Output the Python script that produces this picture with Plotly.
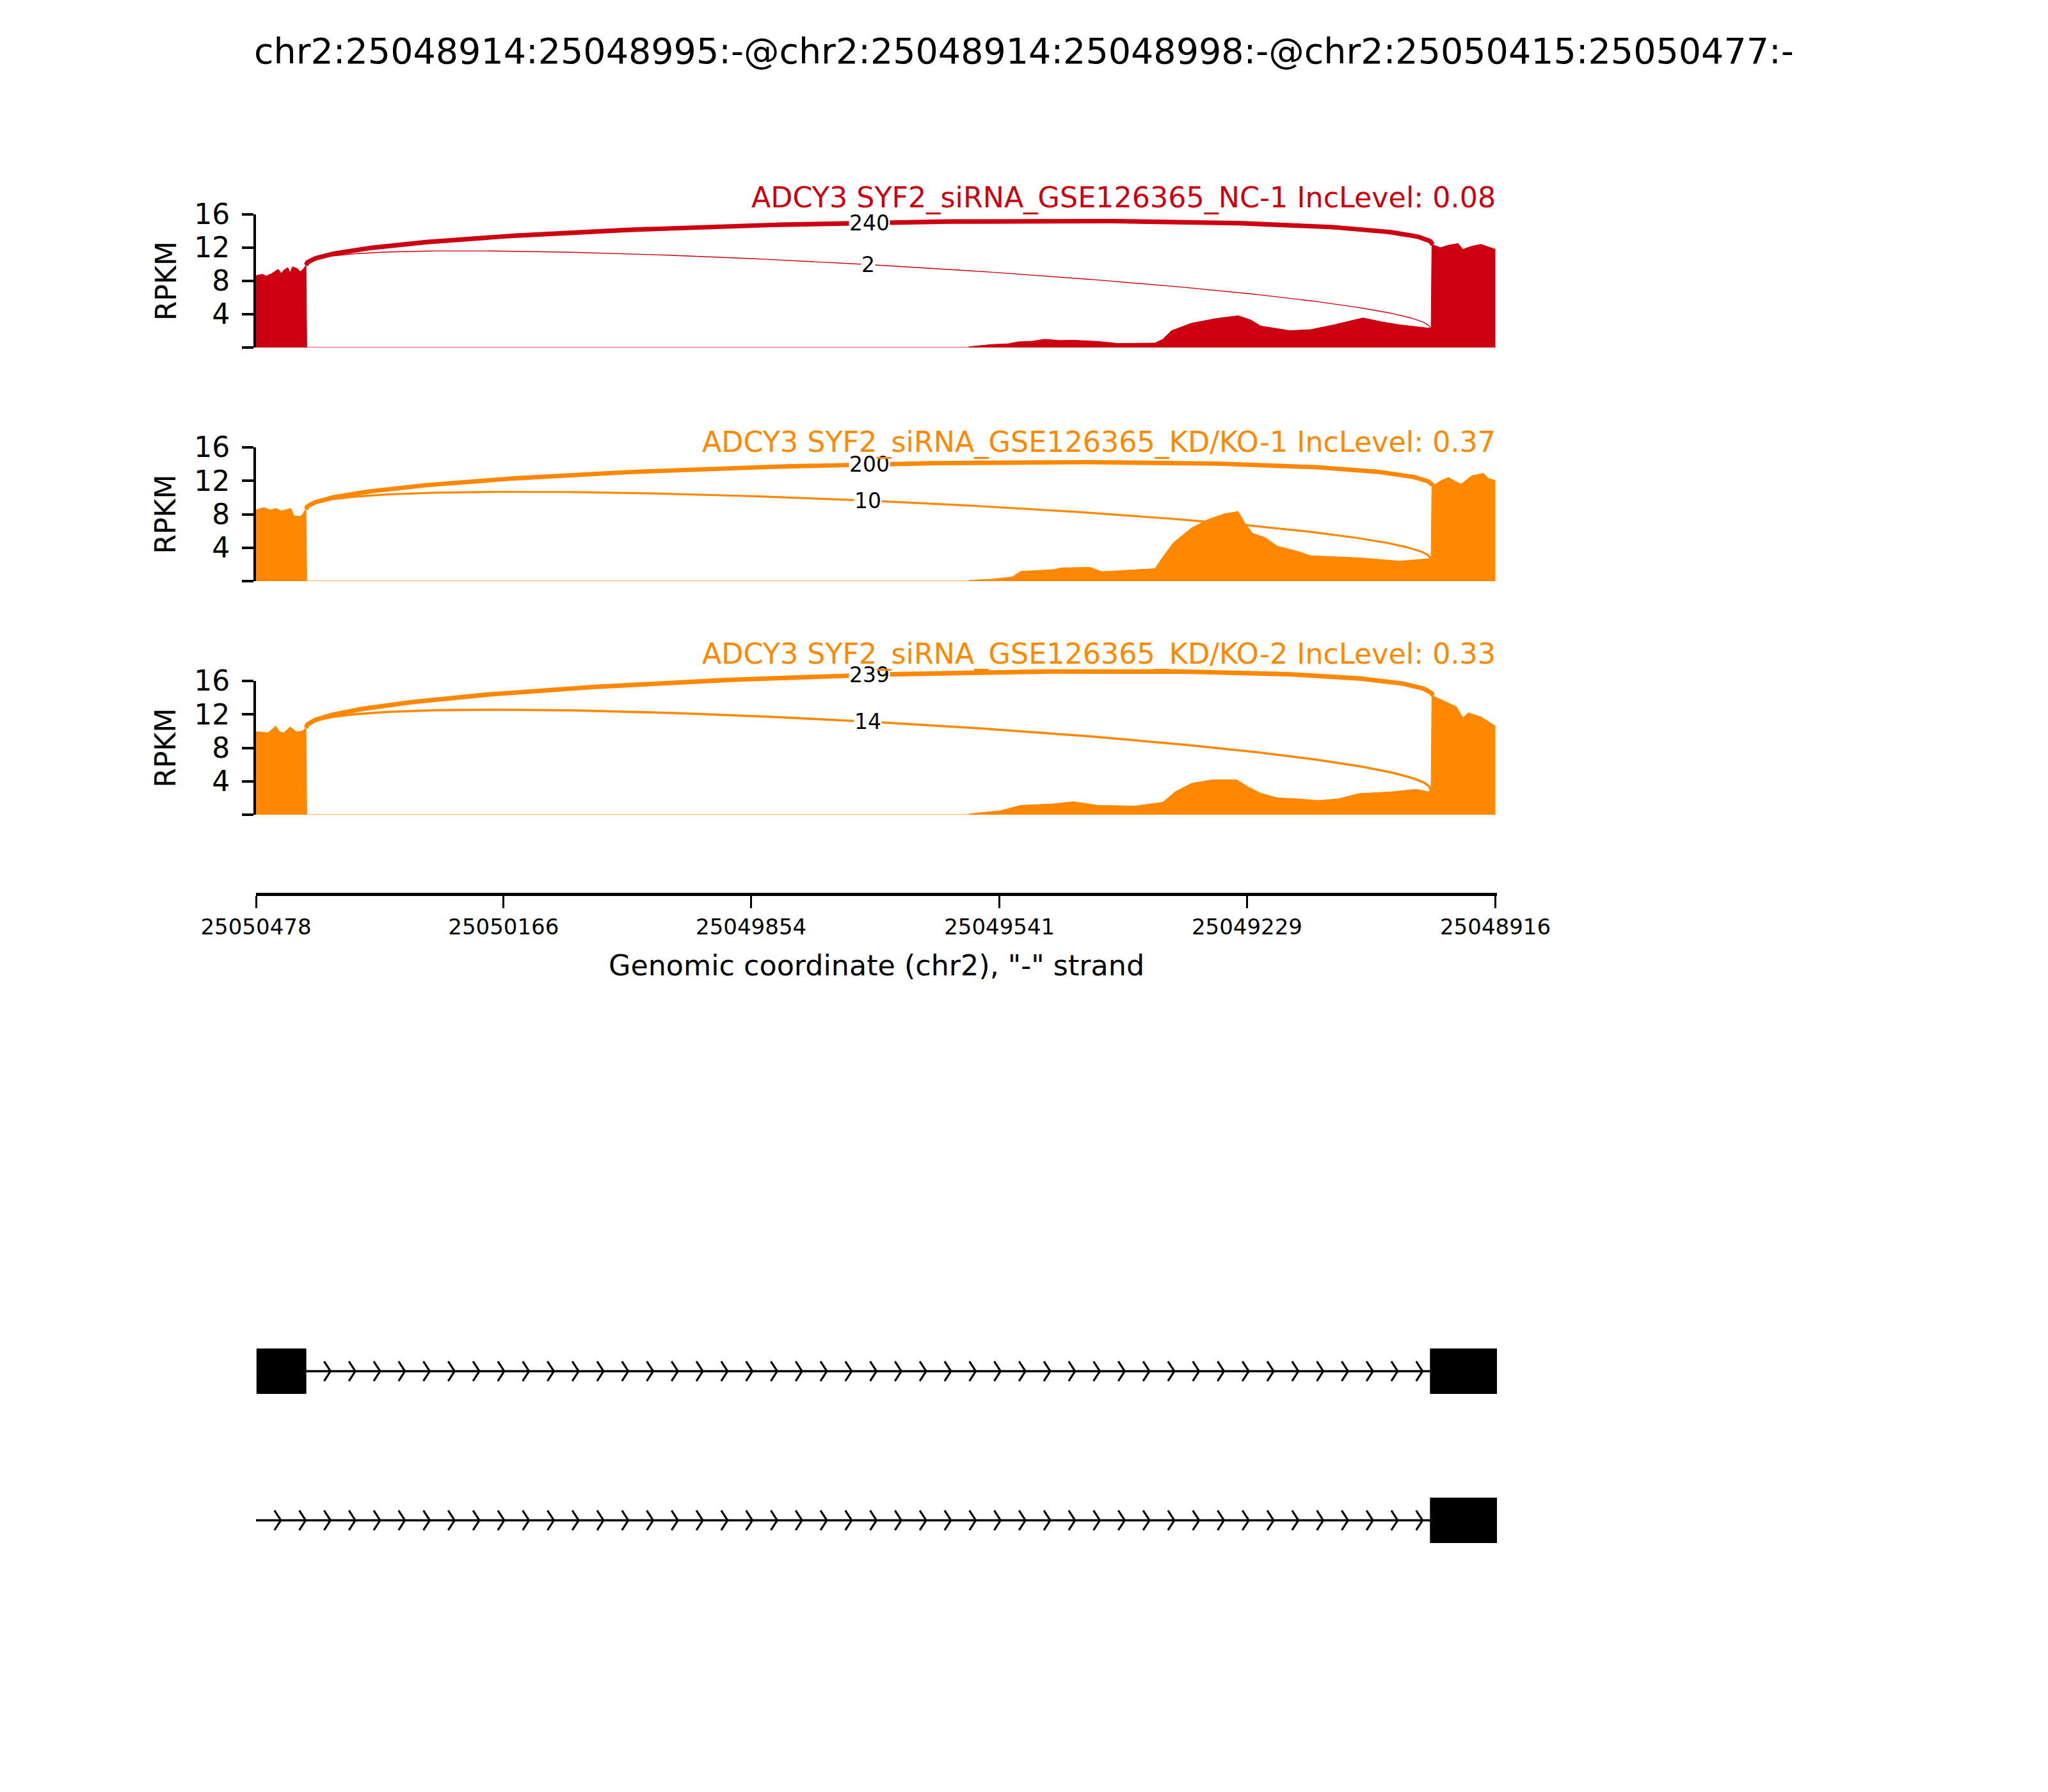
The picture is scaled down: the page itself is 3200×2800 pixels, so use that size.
import numpy as np
import plotly.graph_objects as go

# ---------------- data ----------------
TITLE = "chr2:25048914:25048995:-@chr2:25048914:25048998:-@chr2:25050415:25050477:-"
X_START = 25050478
X_END = 25048914
x_tick_vals = [25050478, 25050166, 25049854, 25049541, 25049229, 25048916]
x_tick_text = ["25050478", "25050166", "25049854", "25049541", "25049229", "25048916"]
y_tick_vals = [0, 4, 8, 12, 16]
y_tick_text = ["", "4", "8", "12", "16"]
x_title = 'Genomic coordinate (chr2), "-" strand'
y_title = "RPKM"

sample_labels = [
    "ADCY3 SYF2_siRNA_GSE126365_NC-1 IncLevel: 0.08",
    "ADCY3 SYF2_siRNA_GSE126365_KD/KO-1 IncLevel: 0.37",
    "ADCY3 SYF2_siRNA_GSE126365_KD/KO-2 IncLevel: 0.33",
]
sample_colors = ["#CC0011", "#FF8800", "#FF8800"]

cov1_pos = [25050478, 25050476, 25050470, 25050465, 25050458, 25050450, 25050446, 25050443,
            25050438, 25050435, 25050432, 25050426, 25050422, 25050417, 25050415, 25050414,
            25049580, 25049579, 25049551, 25049530, 25049517, 25049500, 25049484, 25049465,
            25049448, 25049417, 25049391, 25049345, 25049335, 25049324, 25049299, 25049268,
            25049240, 25049224, 25049212, 25049191, 25049175, 25049149, 25049119, 25049083,
            25049057, 25049037, 25049000, 25048997, 25048996, 25048985, 25048975, 25048963,
            25048957, 25048945, 25048934, 25048925, 25048918, 25048916]
cov1_val = [8.6, 8.7, 8.8, 8.6, 8.9, 9.4, 8.9, 9.3,
            9.6, 9.0, 9.7, 9.5, 9.1, 9.6, 9.9, 0,
            0, 0.1, 0.36, 0.45, 0.69, 0.75, 1.0, 0.85,
            0.88, 0.74, 0.49, 0.54, 1.0, 2.03, 2.92, 3.49,
            3.82, 3.3, 2.59, 2.28, 2.03, 2.15, 2.74, 3.56,
            3.05, 2.74, 2.33, 2.3, 12.4, 12.0, 12.3, 12.5,
            11.8, 12.2, 12.4, 12.1, 11.9, 11.8]

cov2_pos = [25050478, 25050476, 25050468, 25050460, 25050453, 25050446, 25050438, 25050434,
            25050430, 25050422, 25050419, 25050417, 25050415, 25050414,
            25049580, 25049579, 25049551, 25049525, 25049514, 25049484, 25049473, 25049463,
            25049427, 25049412, 25049370, 25049345, 25049335, 25049322, 25049299, 25049278,
            25049257, 25049240, 25049232, 25049222, 25049206, 25049191, 25049165, 25049149,
            25049114, 25049088, 25049037, 25049000, 25048997, 25048996, 25048985, 25048975,
            25048966, 25048959, 25048946, 25048931, 25048925, 25048918, 25048916]
cov2_val = [8.5, 8.6, 8.8, 8.5, 8.7, 8.4, 8.6, 8.7,
            7.8, 7.75, 8.0, 8.4, 8.6, 0,
            0, 0.1, 0.23, 0.49, 1.17, 1.3, 1.38, 1.58,
            1.65, 1.13, 1.33, 1.5, 2.9, 4.57, 6.36, 7.38,
            8.07, 8.32, 7.0, 5.72, 5.2, 4.19, 3.56, 3.04,
            2.9, 2.8, 2.4, 2.64, 2.7, 11.3, 12.0, 12.4,
            11.9, 11.6, 12.6, 12.9, 12.3, 12.1, 12.0]

cov3_pos = [25050478, 25050476, 25050463, 25050453, 25050448, 25050443, 25050435, 25050427,
            25050420, 25050417, 25050415, 25050414,
            25049580, 25049579, 25049540, 25049514, 25049473, 25049448, 25049417, 25049370,
            25049335, 25049319, 25049299, 25049273, 25049242, 25049227, 25049212, 25049191,
            25049165, 25049139, 25049114, 25049088, 25049047, 25049016, 25049000, 25048997,
            25048996, 25048985, 25048965, 25048957, 25048950, 25048934, 25048918, 25048916]
cov3_val = [9.9, 9.93, 9.8, 10.6, 9.9, 9.8, 10.5, 9.9,
            10.0, 10.2, 10.4, 0,
            0, 0.1, 0.48, 1.12, 1.3, 1.56, 1.12, 1.04,
            1.5, 2.78, 3.75, 4.18, 4.18, 3.29, 2.58, 2.02,
            1.9, 1.7, 1.9, 2.53, 2.74, 3.04, 2.74, 3.2,
            14.27, 13.8, 12.9, 11.6, 12.2, 11.7, 10.7, 10.6]

coverage_pos = [cov1_pos, cov2_pos, cov3_pos]
coverage_val = [cov1_val, cov2_val, cov3_val]

junction_coords = [(25050415, 25048995), (25050415, 25048998)]
junction_counts = [[240, 2], [200, 10], [239, 14]]

# gene model: transcript spans and exons
tx_spans = [(25050477, 25048914), (25050478, 25048914)]
tx_exons = [
    [(25050477, 25050415), (25048998, 25048914)],
    [(25048998, 25048914)],
]

# ---------------- layout helpers (pixels of the 3200x2800 page) ----------------
W, H = 3200, 2800
FONT = "DejaVu Sans"


def py(p):
    return 1 - p / H


def px(p):
    return p / W


X_LEFT_PX, X_RIGHT_PX = 400, 2339
zero_px = [543, 908, 1273]
unit_px = [13.0, 13.06, 13.06]
label_center_px = [309, 691, 1022.5]
YTOP = 19.5

fig = go.Figure()
annotations = []
layout_axes = {}

xdom = [px(X_LEFT_PX), px(X_RIGHT_PX)]
layout_axes["xaxis"] = dict(
    domain=xdom, range=[X_START, X_END], anchor="free", position=py(1397),
    showline=True, linewidth=4.5, linecolor="black", ticks="outside", ticklen=19,
    tickwidth=3, tickcolor="black", tickvals=x_tick_vals, ticktext=x_tick_text,
    tickfont=dict(family=FONT, size=34, color="black"), showgrid=False, zeroline=False,
    automargin=False,
)


def bezier(p, t):
    return ((1 - t) ** 3) * p[0] + 3 * ((1 - t) ** 2) * t * p[1] + 3 * (1 - t) * t ** 2 * p[2] + t ** 3 * p[3]


t = np.linspace(0, 1, 200)

for i in range(3):
    dn = i + 1
    sn = i + 4
    yname = "y" if dn == 1 else f"y{dn}"
    z = zero_px[i]
    u = unit_px[i]
    layout_axes["yaxis" if dn == 1 else f"yaxis{dn}"] = dict(
        domain=[py(z), py(z - YTOP * u)], range=[0, YTOP], anchor="x",
        showline=False, showticklabels=False, ticks="", showgrid=False, zeroline=False,
        automargin=False,
    )
    layout_axes[f"yaxis{sn}"] = dict(
        domain=[py(z), py(z - 16 * u)], range=[0, 16], anchor="x",
        showline=True, linewidth=4, linecolor="black", ticks="outside", ticklen=18,
        tickwidth=3.5, tickcolor="black", tickvals=y_tick_vals, ticktext=y_tick_text,
        tickfont=dict(family=FONT, size=44, color="black"), showgrid=False, zeroline=False,
        automargin=False, ticklabelstandoff=10,
    )
    # invisible trace so that the spine axis is displayed
    fig.add_trace(go.Scatter(x=[X_START], y=[0], mode="lines", line=dict(width=0),
                             showlegend=False, hoverinfo="skip", xaxis="x", yaxis=f"y{sn}"))
    color = sample_colors[i]
    pos = np.array(coverage_pos[i], dtype=float)
    val = np.array(coverage_val[i], dtype=float)

    # faint baseline
    fig.add_trace(go.Scatter(x=[X_START, X_END], y=[0, 0], mode="lines",
                             line=dict(color=color, width=2), opacity=0.3,
                             hoverinfo="skip", showlegend=False, xaxis="x", yaxis=yname))
    # coverage
    fig.add_trace(go.Scatter(x=pos, y=val, mode="lines", fill="tozeroy",
                             line=dict(color=color, width=1), fillcolor=color,
                             showlegend=False, xaxis="x", yaxis=yname))
    # junction arcs
    h = 0.4125 * val.max()
    order = np.argsort(pos)
    for (ss1, ss2), n in zip(junction_coords, junction_counts[i]):
        ld = float(np.interp(ss1, pos[order], val[order]))
        rd = float(np.interp(ss2, pos[order], val[order]))
        xs = bezier([ss1, ss1, ss2, ss2], t)
        ys = bezier([ld, ld + h, rd + h, rd], t)
        lw = np.log10(n + 1) * 200 / 72 * 1.08
        fig.add_trace(go.Scatter(x=xs, y=ys, mode="lines", line=dict(color=color, width=lw),
                                 showlegend=False, xaxis="x", yaxis=yname, hoverinfo="skip"))
        mx = bezier([ss1, ss1, ss2, ss2], 0.5)
        my = bezier([ld, ld + h, rd + h, rd], 0.5)
        annotations.append(dict(x=mx, y=my, xref="x", yref=yname, text=str(n), showarrow=False,
                                font=dict(family=FONT, size=33, color="black"),
                                bgcolor="white", borderpad=0, xanchor="center", yanchor="middle"))
    # sample label
    annotations.append(dict(x=px(X_RIGHT_PX), y=py(label_center_px[i]), xref="paper", yref="paper",
                            text=sample_labels[i], showarrow=False, xanchor="right", yanchor="middle",
                            font=dict(family=FONT, size=44.4, color=color)))
    # y title
    annotations.append(dict(x=px(259), y=py(z - 8 * u), xref="paper", yref="paper", text=y_title,
                            textangle=-90, showarrow=False, xanchor="center", yanchor="middle",
                            font=dict(family=FONT, size=44, color="black")))

# ---------------- gene model ----------------
gy_lo_px, gy_hi_px = 2492, 2026  # y=0.5 and y=2.5
layout_axes["yaxis7"] = dict(domain=[py(gy_lo_px), py(gy_hi_px)], range=[0.5, 2.5], anchor="x",
                             showline=False, showticklabels=False, ticks="", showgrid=False,
                             zeroline=False, automargin=False)
rows = [2, 1]
exon_half = 0.15
chev_half_h = 0.066
chev_dx = 8
span = X_START - X_END
tips = X_START - np.arange(50) * span / 50.0
for k, (spn, exons) in enumerate(zip(tx_spans, tx_exons)):
    yc = rows[k]
    fig.add_trace(go.Scatter(x=[spn[0], spn[1]], y=[yc, yc], mode="lines",
                             line=dict(color="black", width=3.5), showlegend=False,
                             xaxis="x", yaxis="y7", hoverinfo="skip"))
    ex_sorted = sorted(exons, key=lambda e: -e[0])
    introns = []
    cur = spn[0]
    for (a, b) in ex_sorted:
        if a < cur:
            introns.append((cur, a))
        cur = b
    if cur > spn[1]:
        introns.append((cur, spn[1]))
    cx, cy = [], []
    for tip in tips:
        arm = tip + chev_dx
        for (hi, lo) in introns:
            if lo <= arm <= hi:
                cx += [arm, tip, arm, None]
                cy += [yc + chev_half_h, yc, yc - chev_half_h, None]
                break
    fig.add_trace(go.Scatter(x=cx, y=cy, mode="lines", line=dict(color="black", width=3.2),
                             showlegend=False, xaxis="x", yaxis="y7", hoverinfo="skip"))
    for (a, b) in exons:
        fig.add_trace(go.Scatter(x=[a, b, b, a, a], y=[yc - exon_half, yc - exon_half, yc + exon_half,
                                                       yc + exon_half, yc - exon_half],
                                 mode="lines", fill="toself", fillcolor="black",
                                 line=dict(color="black", width=1), showlegend=False,
                                 xaxis="x", yaxis="y7", hoverinfo="skip"))

# title and x title
annotations.append(dict(x=0.5, y=py(79), xref="paper", yref="paper", text=TITLE, showarrow=False,
                        xanchor="center", yanchor="middle", font=dict(family=FONT, size=55.5, color="black")))
annotations.append(dict(x=px((X_LEFT_PX + X_RIGHT_PX) / 2), y=py(1508), xref="paper", yref="paper",
                        text=x_title, showarrow=False, xanchor="center", yanchor="middle",
                        font=dict(family=FONT, size=44.4, color="black")))

fig.update_layout(template="none", width=W, height=H, margin=dict(l=0, r=0, t=0, b=0, pad=0),
                  paper_bgcolor="white", plot_bgcolor="rgba(0,0,0,0)", showlegend=False,
                  annotations=annotations, font=dict(family=FONT), **layout_axes)
fig.write_html("out.html", config={"displayModeBar": False},
               post_script="document.body.style.margin='0px';")
